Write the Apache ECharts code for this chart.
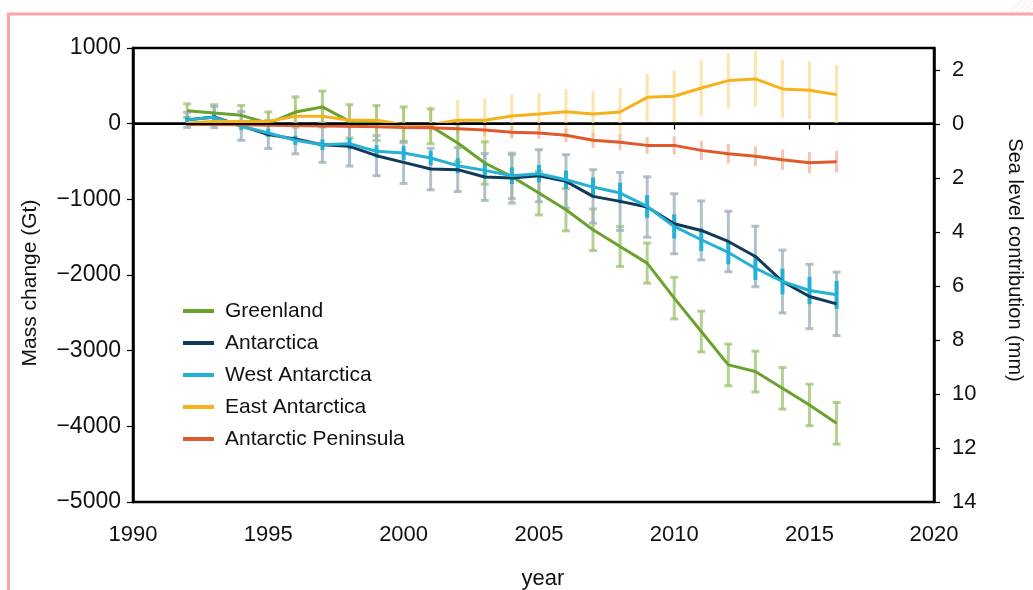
<!DOCTYPE html>
<html>
<head>
<meta charset="utf-8">
<script src="https://cdn.jsdelivr.net/npm/echarts@6/dist/echarts.min.js"></script>
<style>
html,body{margin:0;padding:0;background:#fff;}
#chart{width:1033px;height:590px;}
</style>
</head>
<body>
<div id="chart"></div>
<script>
var years = [1992,1993,1994,1995,1996,1997,1998,1999,2000,2001,2002,2003,2004,2005,2006,2007,2008,2009,2010,2011,2012,2013,2014,2015,2016];

var greenland    = [172,141,110,5,154,221,31,9,-13,-35,-256,-520,-700,-917,-1138,-1402,-1623,-1843,-2306,-2747,-3188,-3276,-3497,-3717,-3960];
var greenlandErr = [90,110,130,150,200,210,220,230,235,230,250,280,290,290,280,275,265,265,275,270,275,270,275,275,275];

var antarctica    = [50,88,-30,-145,-203,-278,-300,-423,-511,-600,-608,-705,-719,-688,-763,-961,-1027,-1102,-1323,-1411,-1557,-1755,-2086,-2284,-2381];
var antarcticaErr = [100,140,190,185,195,234,260,265,280,275,290,310,330,344,353,353,383,400,397,390,400,400,415,425,420];

var westAntarctica    = [53,84,-35,-123,-220,-278,-265,-366,-388,-454,-555,-617,-688,-661,-741,-838,-917,-1094,-1358,-1534,-1702,-1910,-2086,-2205,-2262];
var westAntarcticaErr = [40,45,50,55,60,70,75,80,90,95,100,105,110,115,120,125,135,150,160,150,155,155,170,180,185];

var eastAntarctica    = [10,30,30,30,97,97,44,44,-15,-15,44,44,100,128,159,128,154,348,362,472,569,591,459,441,384];
var eastAntarcticaErr = [60,80,100,120,150,170,190,210,230,250,270,290,290,280,300,300,315,315,340,365,360,365,385,385,385];

var peninsula    = [-10,-10,-15,-20,-25,-30,-35,-40,-50,-55,-66,-85,-115,-123,-154,-220,-247,-287,-287,-353,-397,-432,-476,-516,-503];
var peninsulaErr = [20,25,30,35,40,45,50,55,60,65,70,75,80,80,90,100,105,110,120,125,130,130,135,140,140];

// x-axis tick positions as drawn in the reference (its last tick, labelled 2020, sits at the frame edge)
var xTickValues = [1990,1995,2000,2005,2010,2015,2019.6];
var xTickLabels = ['1990','1995','2000','2005','2010','2015','2020'];
var seaLevelTicks = [-2,0,2,4,6,8,10,12,14];

var names = ['Greenland','Antarctica','West Antarctica','East Antarctica','Antarctic Peninsula'];
var lineColors = ['#6aa22e','#0f3a5a','#25b0d5','#f5b21b','#e0592a'];
var barColors  = ['rgba(150,192,105,0.72)','rgba(160,178,188,0.8)','#25b0d5','rgba(253,215,140,0.7)','rgba(240,165,140,0.65)'];
var values = [greenland, antarctica, westAntarctica, eastAntarctica, peninsula];
var errors = [greenlandErr, antarcticaErr, westAntarcticaErr, eastAntarcticaErr, peninsulaErr];
var caps = [8, 8, 0, 0, 0];
var barWidths = [3, 3, 4, 3, 3];

function pairs(v){ return years.map(function(y,i){ return [y, v[i]]; }); }
function errData(v,e){ return years.map(function(y,i){ return [y, v[i]-e[i], v[i]+e[i]]; }); }

function errRenderer(cap, w, color){
  return function(params, api){
    var x = api.value(0);
    var p1 = api.coord([x, api.value(1)]);
    var p2 = api.coord([x, api.value(2)]);
    var st = {stroke: color, lineWidth: w};
    var children = [{type:'line', shape:{x1:p1[0],y1:p1[1],x2:p2[0],y2:p2[1]}, style:st}];
    if (cap > 0) {
      children.push({type:'line', shape:{x1:p1[0]-cap/2,y1:p1[1],x2:p1[0]+cap/2,y2:p1[1]}, style:st});
      children.push({type:'line', shape:{x1:p2[0]-cap/2,y1:p2[1],x2:p2[0]+cap/2,y2:p2[1]}, style:st});
    }
    return {type:'group', children: children};
  };
}

var series = [];
var order = [3,4,0,1,2];
order.forEach(function(k){
  series.push({
    type:'custom', name: names[k] + ' range', xAxisIndex:0, yAxisIndex:0,
    renderItem: errRenderer(caps[k], barWidths[k], barColors[k]),
    data: errData(values[k], errors[k]), z: 1, silent: true
  });
});
names.forEach(function(n,k){
  var s = {
    type:'line', name:n, data:pairs(values[k]), showSymbol:false, symbol:'none',
    lineStyle:{color:lineColors[k], width:3}, itemStyle:{color:lineColors[k]}, z: 3
  };
  if (k === 0) {
    s.markLine = {silent:true, symbol:'none', label:{show:false}, animation:false,
      lineStyle:{color:'#000', width:2, type:'solid'}, data:[{yAxis:0}]};
  }
  series.push(s);
});

var fontFam = 'Liberation Sans, Arial, sans-serif';
var chart = echarts.init(document.getElementById('chart'), null, {renderer:'canvas'});
chart.setOption({
  animation:false,
  backgroundColor:'#fff',
  grid:{left:133, right:99, top:48, bottom:88, show:true, borderColor:'#000', borderWidth:2.5, containLabel:false},
  legend:{
    data:names, orient:'vertical', left:178, top:294, icon:'rect', itemWidth:31, itemHeight:4, itemGap:8,
    textStyle:{fontSize:21, color:'#111', fontFamily:fontFam, lineHeight:24, padding:[0,0,0,6]}
  },
  xAxis:{
    type:'value', min:1990, max:2019.6,
    axisLine:{show:true, lineStyle:{color:'#000', width:2.5}},
    axisTick:{show:true, length:6, customValues:xTickValues, lineStyle:{color:'#000', width:1.2}},
    axisLabel:{fontSize:22, color:'#111', margin:22, fontFamily:fontFam, customValues:xTickValues,
      formatter:function(v){ var i = xTickValues.indexOf(v); return i >= 0 ? xTickLabels[i] : ''; }},
    splitLine:{show:false}
  },
  yAxis:[{
    type:'value', min:-5000, max:1000, interval:1000, position:'left',
    axisLine:{show:true, lineStyle:{color:'#000', width:2.5}},
    axisTick:{show:true, length:6, lineStyle:{color:'#000', width:1.2}},
    axisLabel:{fontSize:23, color:'#111', margin:12, fontFamily:fontFam,
      formatter:function(v){ return v < 0 ? '\u2212' + Math.abs(v) : String(v); }},
    splitLine:{show:false}
  },{
    type:'value', min:-2.815, max:14, inverse:true, position:'right',
    axisLine:{show:true, lineStyle:{color:'#000', width:2.5}},
    axisTick:{show:true, length:6, customValues:seaLevelTicks, lineStyle:{color:'#000', width:1.2}},
    axisLabel:{fontSize:22, color:'#111', margin:18, fontFamily:fontFam, customValues:seaLevelTicks,
      formatter:function(v){ return String(Math.abs(Math.round(v))); }},
    splitLine:{show:false}
  }],
  graphic:[
    {type:'line', shape:{x1:7, y1:14, x2:1033, y2:14}, style:{stroke:'#fda3ac', lineWidth:3}, z:100},
    {type:'line', shape:{x1:8.5, y1:13, x2:8.5, y2:590}, style:{stroke:'#fda3ac', lineWidth:3}, z:100},
    {type:'line', shape:{x1:1008, y1:15, x2:1022, y2:0}, style:{stroke:'#fde0e3', lineWidth:1}},
    {type:'line', shape:{x1:1014, y1:15, x2:1028, y2:0}, style:{stroke:'#fde0e3', lineWidth:1}},
    {type:'line', shape:{x1:1020, y1:15, x2:1033, y2:1}, style:{stroke:'#fde0e3', lineWidth:1}},
    {type:'line', shape:{x1:1026, y1:15, x2:1033, y2:8}, style:{stroke:'#fde0e3', lineWidth:1}},
    {type:'text', x:30, y:283, rotation:Math.PI/2,
      style:{text:'Mass change (Gt)', font:'21px ' + fontFam, fill:'#111', align:'center', verticalAlign:'middle'}},
    {type:'text', x:1015, y:260, rotation:-Math.PI/2,
      style:{text:'Sea level contribution (mm)', font:'20px ' + fontFam, fill:'#111', align:'center', verticalAlign:'middle'}},
    {type:'text', x:543, y:579,
      style:{text:'year', font:'22px ' + fontFam, fill:'#111', align:'center', verticalAlign:'middle'}}
  ],
  series:series
});
</script>
</body>
</html>
